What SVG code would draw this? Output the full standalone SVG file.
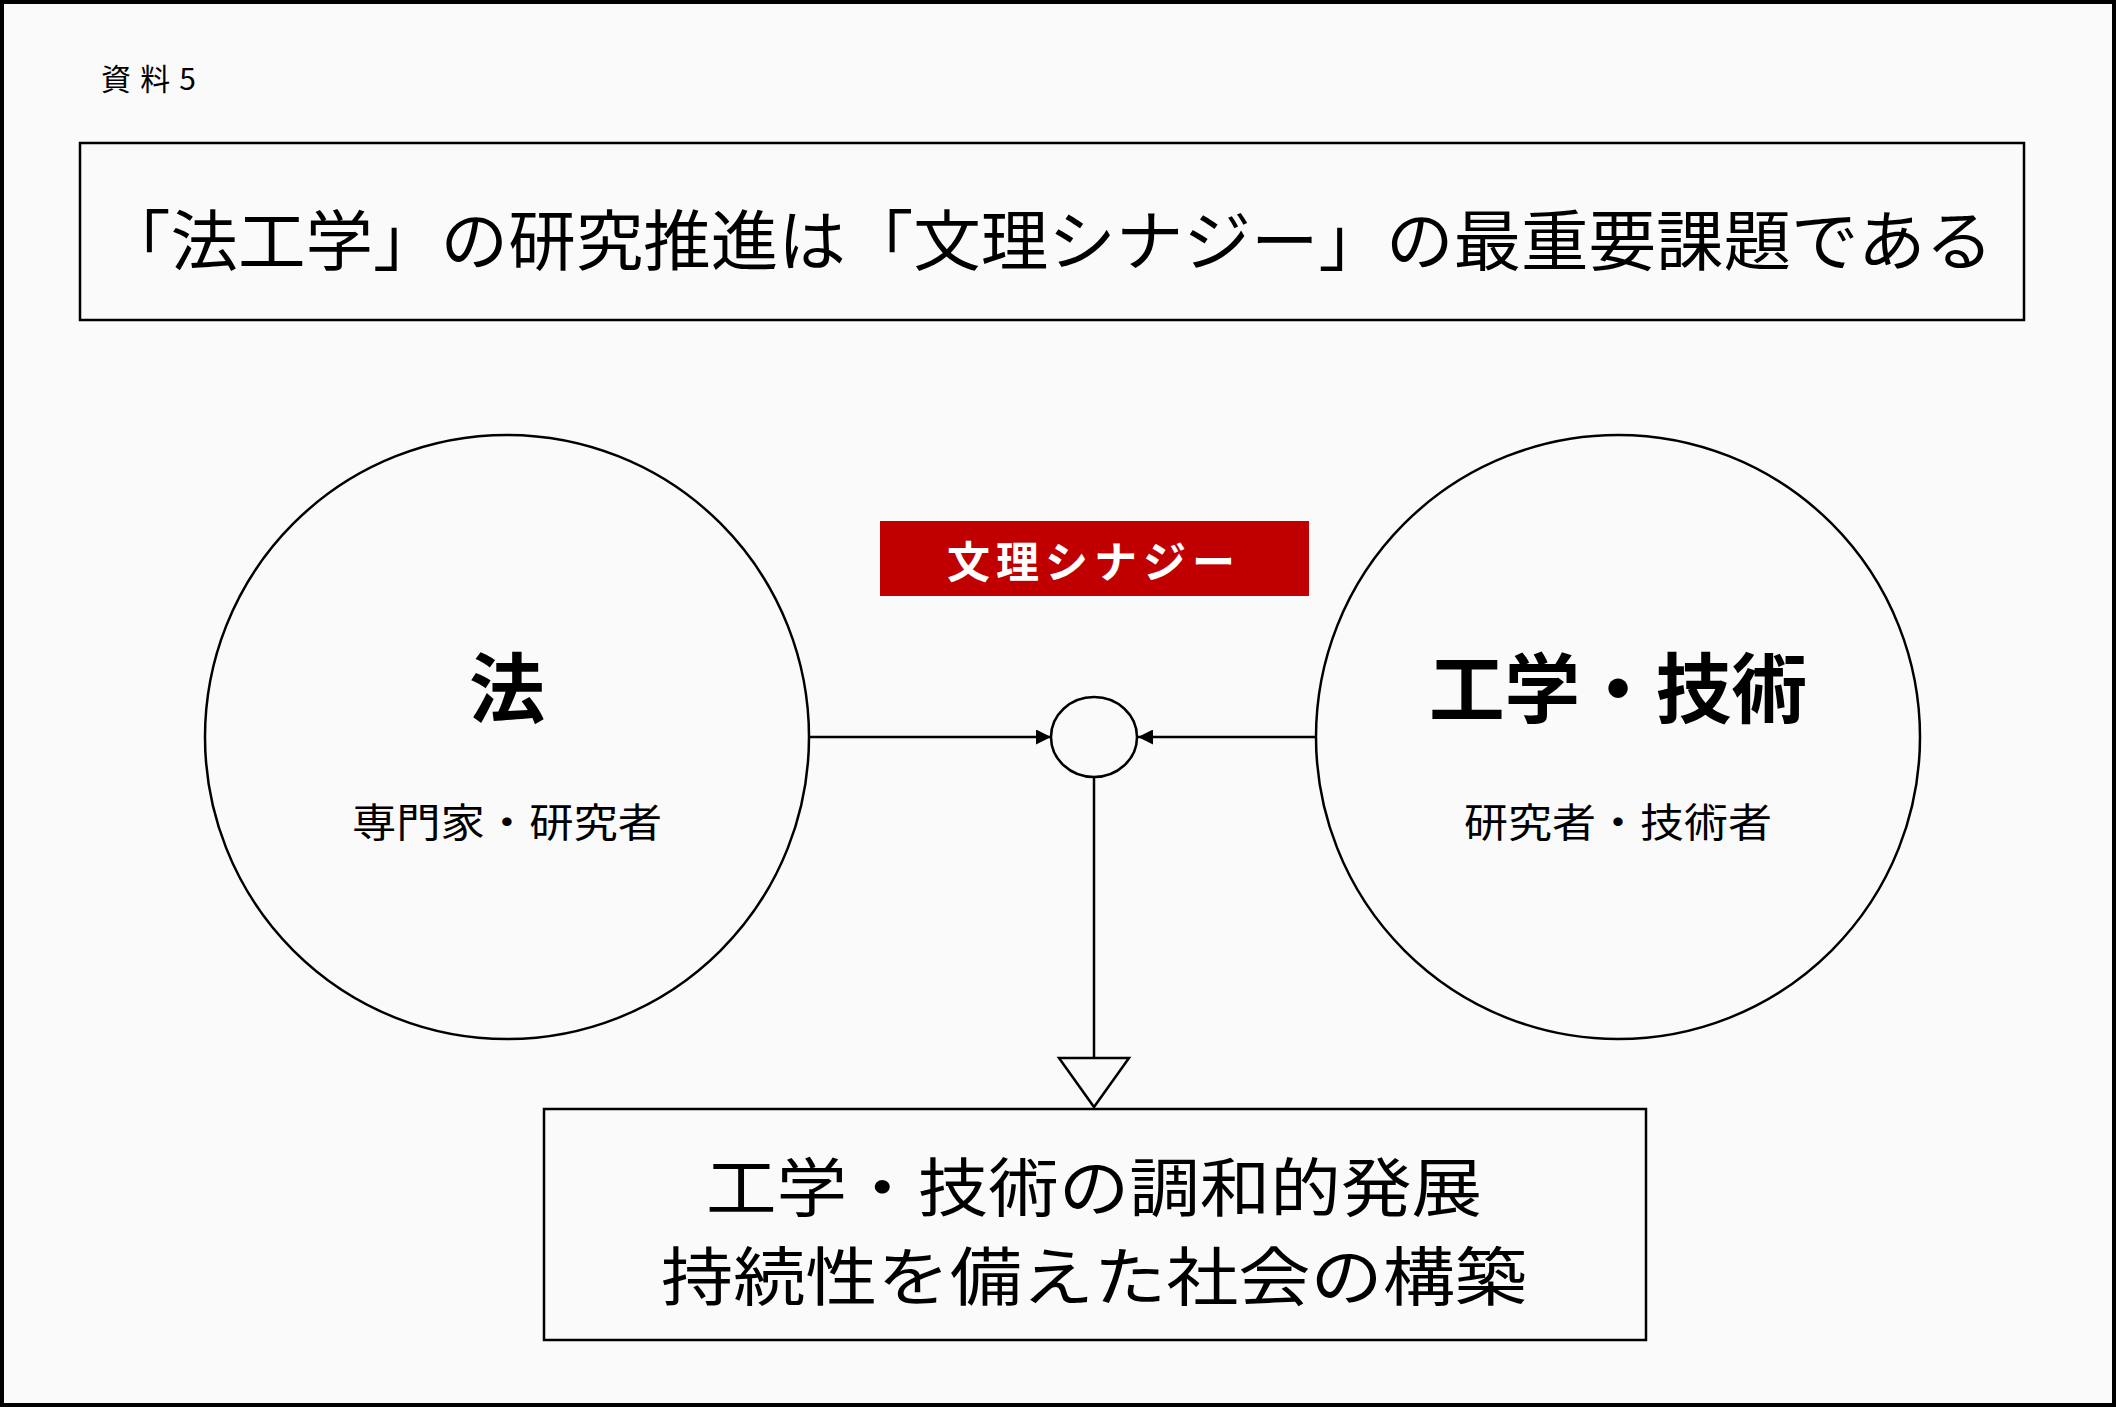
<svg xmlns="http://www.w3.org/2000/svg" width="2116" height="1407" viewBox="0 0 2116 1407">
<style>
text{font-family:"Noto Sans CJK JP","Noto Sans",sans-serif;fill:#000;text-anchor:middle;dominant-baseline:central}
.sh{fill:none;stroke:#000;stroke-width:2.5}
.ln{stroke:#000;stroke-width:2.5;fill:none}
</style>
<defs>
<marker id="ah" viewBox="0 0 10 10" refX="10" refY="5" markerWidth="6" markerHeight="6" orient="auto"><path d="M0,0L10,5L0,10Z" fill="#000"/></marker>
</defs>
<rect x="2" y="2" width="2112" height="1403" fill="#fafafa" stroke="#000" stroke-width="4"/>
<text x="101" y="77" style="text-anchor:start;font-size:30px" textLength="95">資料5</text>
<g id="title"><rect class="sh" x="80" y="143" width="1944" height="177"/>
<text x="1048" y="236" style="font-size:66px" textLength="1890" lengthAdjust="spacingAndGlyphs">「法工学」の研究推進は「文理シナジー」の最重要課題である</text></g>
<g id="law"><circle class="sh" cx="507" cy="737" r="302"/>
<text x="507" y="684" style="font-size:76px;font-weight:bold">法</text>
<text x="507" y="820" style="font-size:40px" textLength="310" lengthAdjust="spacingAndGlyphs">専門家・研究者</text></g>
<g id="eng"><circle class="sh" cx="1618" cy="737" r="302"/>
<text x="1618" y="684" style="font-size:76px;font-weight:bold" textLength="378" lengthAdjust="spacingAndGlyphs">工学・技術</text>
<text x="1618" y="820" style="font-size:40px" textLength="308" lengthAdjust="spacingAndGlyphs">研究者・技術者</text></g>
<g id="synergy"><rect x="880" y="521" width="429" height="75" fill="#c00000"/>
<text x="1094" y="559" style="font-size:43px;font-weight:bold;fill:#fff;letter-spacing:6px">文理シナジー</text></g>
<g id="hub"><ellipse class="sh" cx="1094" cy="737" rx="43" ry="40"/></g>
<g id="result"><rect class="sh" x="544" y="1109" width="1102" height="231"/>
<text x="1094" y="1183" style="font-size:64px" textLength="776" lengthAdjust="spacingAndGlyphs">工学・技術の調和的発展</text>
<text x="1094" y="1272" style="font-size:64px" textLength="866" lengthAdjust="spacingAndGlyphs">持続性を備えた社会の構築</text></g>
<g id="connectors">
<line class="ln" x1="810" y1="737" x2="1051" y2="737" marker-end="url(#ah)"/>
<line class="ln" x1="1317" y1="737" x2="1138" y2="737" marker-end="url(#ah)"/>
<line class="ln" x1="1094" y1="777" x2="1094" y2="1058"/>
<path class="ln" d="M1059,1058L1129,1058L1094,1107Z" fill="#fff"/>
</g>
</svg>
